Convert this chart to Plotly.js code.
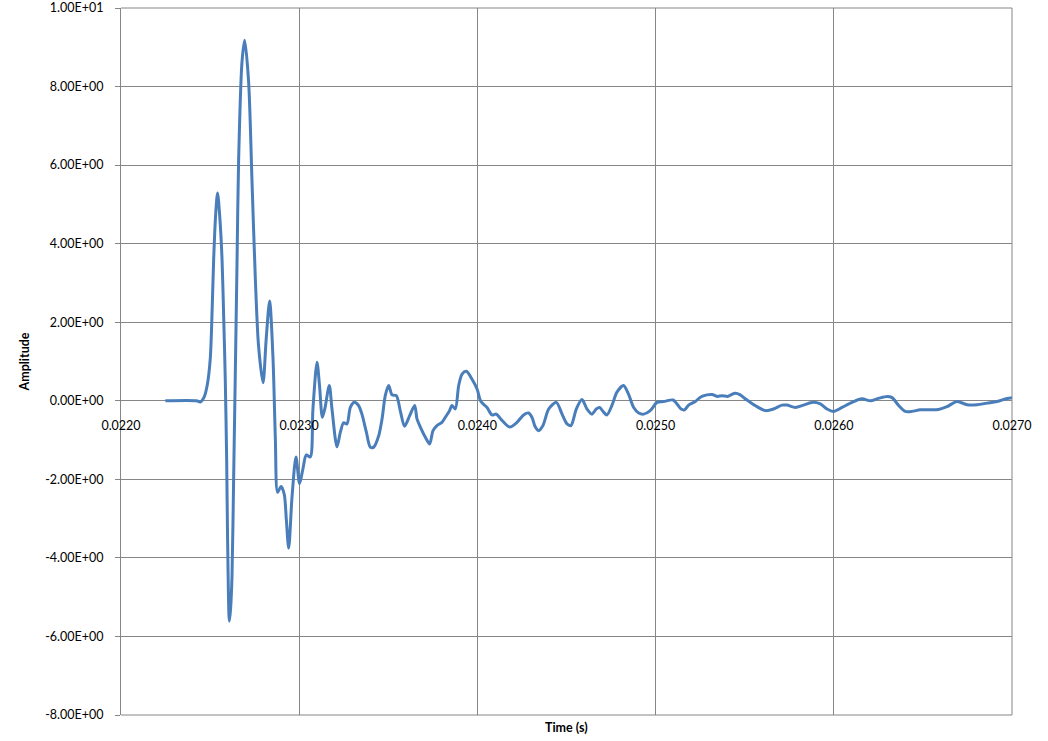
<!DOCTYPE html>
<html>
<head>
<meta charset="utf-8">
<script src="https://cdn.plot.ly/plotly-3.0.1.min.js"></script>
<style>html,body{margin:0;padding:0;background:#fff;}#chart{width:1048px;height:741px;}</style>
</head>
<body>
<div id="chart"></div>
<script>
// Time (s)
const time = [
0.022249,0.022423,0.022445,0.022467,0.022484,0.022501,0.022512,0.022520,0.022532,0.022542,
0.022554,0.022567,0.022577,0.022585,0.022593,0.022598,0.022608,0.022615,0.022623,0.022632,
0.022641,0.022651,0.022660,0.022679,0.022694,0.022716,0.022735,0.022754,0.022772,0.022797,
0.022815,0.022834,0.022853,0.022866,0.022879,0.022898,0.022916,0.022928,0.022941,0.022960,
0.022982,0.023002,0.023021,0.023040,0.023062,0.023077,0.023100,0.023114,0.023130,0.023144,
0.023169,0.023184,0.023212,0.023231,0.023249,0.023268,0.023287,0.023309,0.023333,0.023352,
0.023377,0.023399,0.023418,0.023446,0.023465,0.023483,0.023502,0.023521,0.023545,0.023567,
0.023591,0.023620,0.023648,0.023661,0.023680,0.023708,0.023732,0.023751,0.023773,0.023801,
0.023820,0.023844,0.023857,0.023876,0.023895,0.023914,0.023938,0.023970,0.023998,0.024020,
0.024054,0.024082,0.024106,0.024138,0.024181,0.024222,0.024259,0.024287,0.024306,0.024325,
0.024343,0.024368,0.024400,0.024443,0.024475,0.024503,0.024525,0.024555,0.024587,0.024615,
0.024643,0.024667,0.024686,0.024708,0.024727,0.024755,0.024783,0.024820,0.024848,0.024877,
0.024905,0.024933,0.024970,0.025008,0.025045,0.025098,0.025120,0.025143,0.025163,0.025185,
0.025223,0.025251,0.025288,0.025317,0.025345,0.025373,0.025404,0.025423,0.025447,0.025475,
0.025503,0.025531,0.025569,0.025616,0.025662,0.025709,0.025737,0.025784,0.025831,0.025883,
0.025924,0.025962,0.025999,0.026046,0.026102,0.026158,0.026205,0.026251,0.026299,0.026327,
0.026364,0.026401,0.026439,0.026485,0.026542,0.026588,0.026635,0.026691,0.026748,0.026804,
0.026860,0.026916,0.026972,0.027000
];
// Amplitude
const amplitude = [
0.00,0.00,-0.03,0.10,0.40,1.08,2.40,3.60,4.80,5.29,
4.70,3.60,2.00,0.57,-1.50,-3.45,-5.61,-5.30,-4.45,-2.00,
0.57,3.50,6.12,8.63,9.18,8.13,5.61,3.09,1.39,0.46,
1.59,2.54,1.08,-0.93,-2.33,-2.18,-2.38,-3.04,-3.75,-2.43,
-1.43,-2.11,-1.73,-1.38,-1.43,-0.21,0.98,0.39,-0.42,-0.20,
0.39,-0.21,-1.17,-0.80,-0.56,-0.59,-0.17,-0.04,-0.12,-0.34,
-0.80,-1.18,-1.18,-0.89,-0.46,0.13,0.39,0.15,0.13,-0.25,
-0.65,-0.38,-0.12,-0.46,-0.67,-0.93,-1.10,-0.76,-0.63,-0.55,
-0.42,-0.25,-0.12,-0.21,0.39,0.68,0.75,0.55,0.30,-0.02,
-0.17,-0.36,-0.34,-0.50,-0.67,-0.55,-0.36,-0.31,-0.42,-0.67,
-0.76,-0.63,-0.21,-0.04,-0.34,-0.59,-0.63,-0.21,0.03,-0.21,
-0.34,-0.21,-0.17,-0.29,-0.36,-0.12,0.22,0.39,0.17,-0.17,
-0.31,-0.34,-0.25,-0.04,-0.02,0.02,-0.08,-0.21,-0.23,-0.11,
-0.02,0.09,0.15,0.16,0.11,0.13,0.11,0.15,0.19,0.15,
0.05,-0.04,-0.15,-0.25,-0.21,-0.11,-0.11,-0.17,-0.11,-0.04,
-0.08,-0.21,-0.27,-0.17,-0.04,0.05,0.00,0.06,0.11,0.08,
-0.12,-0.27,-0.27,-0.23,-0.23,-0.22,-0.15,-0.02,-0.10,-0.10,
-0.06,-0.02,0.06,0.08
];
const xTickVals = [0.022,0.023,0.024,0.025,0.026,0.027];
const xTickText = ["0.0220","0.0230","0.0240","0.0250","0.0260","0.0270"];
const yTickVals = [10,8,6,4,2,0,-2,-4,-6,-8];
const yTickText = ["1.00E+01","8.00E+00","6.00E+00","4.00E+00","2.00E+00","0.00E+00","-2.00E+00","-4.00E+00","-6.00E+00","-8.00E+00"];
const xTitle = "Time (s)";
const yTitle = "Amplitude";

const font = "Lato, 'Open Sans', sans-serif";
const gridColor = "#868686";

const trace = {
  x: time, y: amplitude, type: "scatter", mode: "lines",
  line: {color: "#4a7ebb", width: 3, shape: "spline", smoothing: 0.8},
  hoverinfo: "skip", showlegend: false
};

const frameLine = {color: gridColor, width: 1};
const layout = {
  width: 1048, height: 741,
  margin: {l: 121, r: 36, t: 8, b: 26, pad: 0},
  paper_bgcolor: "#fff", plot_bgcolor: "#fff",
  font: {family: font, size: 12.5, color: "#000"},
  showlegend: false,
  xaxis: {
    range: [0.022, 0.027],
    tickvals: xTickVals, ticktext: xTickText,
    anchor: "free", position: 8/18,
    showgrid: true, gridcolor: gridColor, gridwidth: 1,
    zeroline: false, showline: false, ticks: "",
    ticklabelstandoff: 16, ticklabeloverflow: "allow",
    tickfont: {family: font, size: 12.5, color: "#000"},
    fixedrange: true
  },
  yaxis: {
    range: [-8, 10],
    tickvals: yTickVals, ticktext: yTickText,
    showgrid: true, gridcolor: gridColor, gridwidth: 1,
    zeroline: false, showline: true, linecolor: gridColor, linewidth: 1,
    ticks: "outside", ticklen: 5, tickcolor: gridColor, tickwidth: 1,
    ticklabelstandoff: 9, ticklabeloverflow: "allow",
    tickfont: {family: font, size: 12.5, color: "#000"},
    title: {text: "<b>" + yTitle + "</b>", standoff: 12, font: {family: font, size: 12.5, color: "#000"}},
    automargin: false,
    fixedrange: true
  },
  annotations: [{
    text: "<b>" + xTitle + "</b>", xref: "paper", yref: "paper", x: 0.5, y: 0,
    xanchor: "center", yanchor: "top", yshift: -3, showarrow: false,
    font: {family: font, size: 12.5, color: "#000"}
  }],
  shapes: [
    {type: "line", xref: "paper", yref: "paper", x0: 0, x1: 1, y0: 1, y1: 1, line: frameLine, layer: "below"},
    {type: "line", xref: "paper", yref: "paper", x0: 0, x1: 1, y0: 0, y1: 0, line: frameLine, layer: "below"},
    {type: "line", xref: "paper", yref: "paper", x0: 1, x1: 1, y0: 0, y1: 1, line: frameLine, layer: "below"}
  ]
};

Plotly.newPlot("chart", [trace], layout, {staticPlot: true, displayModeBar: false});
</script>
</body>
</html>
